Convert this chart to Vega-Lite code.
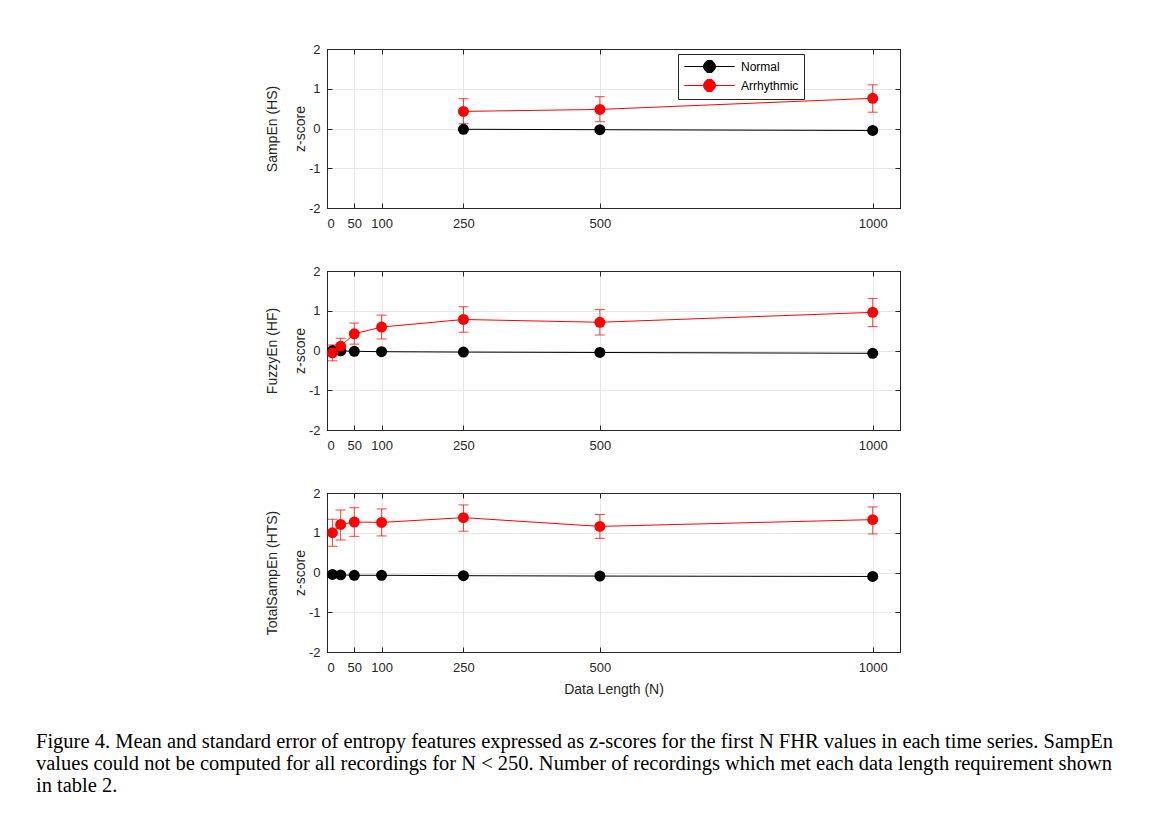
{
  "$schema": "https://vega.github.io/schema/vega-lite/v6.json",
  "padding": {"top": 42, "left": 36, "right": 5, "bottom": 5},
  "background": "white",
  "datasets": {
    "rows": [
      {"feature": "SampEn", "group": "Normal", "N": 250, "mean": -0.02, "lo": -0.05, "hi": 0.01},
      {"feature": "SampEn", "group": "Normal", "N": 500, "mean": -0.03, "lo": -0.06, "hi": 0.0},
      {"feature": "SampEn", "group": "Normal", "N": 1000, "mean": -0.05, "lo": -0.08, "hi": -0.02},
      {"feature": "SampEn", "group": "Arrhythmic", "N": 250, "mean": 0.43, "lo": 0.12, "hi": 0.75},
      {"feature": "SampEn", "group": "Arrhythmic", "N": 500, "mean": 0.48, "lo": 0.17, "hi": 0.8},
      {"feature": "SampEn", "group": "Arrhythmic", "N": 1000, "mean": 0.76, "lo": 0.41, "hi": 1.1},
      {"feature": "FuzzyEn", "group": "Normal", "N": 10, "mean": 0.0, "lo": -0.04, "hi": 0.04},
      {"feature": "FuzzyEn", "group": "Normal", "N": 25, "mean": -0.01, "lo": -0.05, "hi": 0.03},
      {"feature": "FuzzyEn", "group": "Normal", "N": 50, "mean": -0.02, "lo": -0.05, "hi": 0.01},
      {"feature": "FuzzyEn", "group": "Normal", "N": 100, "mean": -0.03, "lo": -0.06, "hi": 0.0},
      {"feature": "FuzzyEn", "group": "Normal", "N": 250, "mean": -0.04, "lo": -0.07, "hi": -0.01},
      {"feature": "FuzzyEn", "group": "Normal", "N": 500, "mean": -0.05, "lo": -0.08, "hi": -0.02},
      {"feature": "FuzzyEn", "group": "Normal", "N": 1000, "mean": -0.07, "lo": -0.1, "hi": -0.04},
      {"feature": "FuzzyEn", "group": "Arrhythmic", "N": 10, "mean": -0.06, "lo": -0.26, "hi": 0.14},
      {"feature": "FuzzyEn", "group": "Arrhythmic", "N": 25, "mean": 0.11, "lo": -0.08, "hi": 0.31},
      {"feature": "FuzzyEn", "group": "Arrhythmic", "N": 50, "mean": 0.42, "lo": 0.16, "hi": 0.69},
      {"feature": "FuzzyEn", "group": "Arrhythmic", "N": 100, "mean": 0.59, "lo": 0.29, "hi": 0.89},
      {"feature": "FuzzyEn", "group": "Arrhythmic", "N": 250, "mean": 0.78, "lo": 0.46, "hi": 1.1},
      {"feature": "FuzzyEn", "group": "Arrhythmic", "N": 500, "mean": 0.71, "lo": 0.39, "hi": 1.03},
      {"feature": "FuzzyEn", "group": "Arrhythmic", "N": 1000, "mean": 0.96, "lo": 0.6, "hi": 1.31},
      {"feature": "TotalSampEn", "group": "Normal", "N": 10, "mean": -0.05, "lo": -0.08, "hi": -0.02},
      {"feature": "TotalSampEn", "group": "Normal", "N": 25, "mean": -0.06, "lo": -0.09, "hi": -0.03},
      {"feature": "TotalSampEn", "group": "Normal", "N": 50, "mean": -0.07, "lo": -0.1, "hi": -0.04},
      {"feature": "TotalSampEn", "group": "Normal", "N": 100, "mean": -0.07, "lo": -0.1, "hi": -0.04},
      {"feature": "TotalSampEn", "group": "Normal", "N": 250, "mean": -0.08, "lo": -0.11, "hi": -0.05},
      {"feature": "TotalSampEn", "group": "Normal", "N": 500, "mean": -0.09, "lo": -0.12, "hi": -0.06},
      {"feature": "TotalSampEn", "group": "Normal", "N": 1000, "mean": -0.1, "lo": -0.13, "hi": -0.07},
      {"feature": "TotalSampEn", "group": "Arrhythmic", "N": 10, "mean": 1.0, "lo": 0.66, "hi": 1.34},
      {"feature": "TotalSampEn", "group": "Arrhythmic", "N": 25, "mean": 1.21, "lo": 0.82, "hi": 1.57},
      {"feature": "TotalSampEn", "group": "Arrhythmic", "N": 50, "mean": 1.27, "lo": 0.91, "hi": 1.63},
      {"feature": "TotalSampEn", "group": "Arrhythmic", "N": 100, "mean": 1.26, "lo": 0.92, "hi": 1.6},
      {"feature": "TotalSampEn", "group": "Arrhythmic", "N": 250, "mean": 1.38, "lo": 1.04, "hi": 1.7},
      {"feature": "TotalSampEn", "group": "Arrhythmic", "N": 500, "mean": 1.16, "lo": 0.86, "hi": 1.46},
      {"feature": "TotalSampEn", "group": "Arrhythmic", "N": 1000, "mean": 1.33, "lo": 0.97, "hi": 1.65}
    ]
  },
  "data": {"name": "rows"},
  "title": {
    "text": [
      "Figure 4. Mean and standard error of entropy features expressed as z-scores for the first N FHR values in each time series. SampEn",
      "values could not be computed for all recordings for N < 250. Number of recordings which met each data length requirement shown",
      "in table 2."
    ],
    "orient": "bottom",
    "anchor": "start",
    "frame": "group",
    "font": "Liberation Serif",
    "fontSize": 20.5,
    "fontWeight": "normal",
    "color": "#000000",
    "lineHeight": 22,
    "dx": -291,
    "offset": 35
  },
  "spacing": 33,
  "resolve": {"legend": {"color": "independent"}},
  "vconcat": [
    {
      "width": 573,
      "height": 159,
      "transform": [{"filter": "datum.feature === 'SampEn'"}],
      "encoding": {
        "color": {
          "field": "group", "type": "nominal",
          "scale": {"domain": ["Normal", "Arrhythmic"], "range": ["#000000", "#ff0000"]},
          "legend": {
            "title": null,
            "orient": "none",
            "legendX": 351,
            "legendY": 5,
            "direction": "vertical",
            "strokeColor": "#262626",
            "fillColor": "#ffffff",
            "padding": 5,
            "rowPadding": 2,
            "labelFont": "Liberation Sans",
            "labelFontSize": 12,
            "labelColor": "#000000",
            "labelOffset": 24,
            "symbolOffset": 19,
            "symbolType": "M -3.6 0 H 3.6 M 0.85 0 A 0.85 0.85 0 1 1 -0.85 0 A 0.85 0.85 0 1 1 0.85 0 Z M 0 -0.85 V 0.85 M -0.4 -0.85 H 0.4 M -0.4 0.85 H 0.4",
            "symbolSize": 196,
            "encode": {
              "symbols": {
                "update": {
                  "fill": {"signal": "datum.value === 'Normal' ? '#000000' : '#ff0000'"},
                  "stroke": {"signal": "datum.value === 'Normal' ? '#000000' : '#ff0000'"},
                  "strokeWidth": {"value": 1},
                  "opacity": {"value": 1},
                  "fillOpacity": {"value": 1}
                }
              }
            }
          }
        }
      },
      "layer": [
        {
          "mark": {"type": "rule", "strokeWidth": 1, "opacity": 0.75},
          "encoding": {
            "x": {"field": "N", "type": "quantitative", "scale": {"domain": [0, 1050], "nice": false},
                  "axis": {"orient": "bottom", "values": [0, 50, 100, 250, 500, 1000], "labelExpr": "'' + datum.value", "title": null, "grid": true}},
            "y": {"field": "lo", "type": "quantitative", "scale": {"domain": [-2, 2], "nice": false},
                  "axis": {"orient": "left", "values": [-2, -1, 0, 1, 2], "labelExpr": "'' + datum.value", "grid": true, "title": ["SampEn (HS)", "z-score"]}},
            "y2": {"field": "hi"}
          }
        },
        {
          "mark": {"type": "tick", "orient": "horizontal", "size": 10, "thickness": 1, "opacity": 0.75},
          "encoding": {
            "x": {"field": "N", "type": "quantitative", "scale": {"domain": [0, 1050], "nice": false}, "axis": null},
            "y": {"field": "lo", "type": "quantitative", "scale": {"domain": [-2, 2], "nice": false}, "axis": null}
          }
        },
        {
          "mark": {"type": "tick", "orient": "horizontal", "size": 10, "thickness": 1, "opacity": 0.75},
          "encoding": {
            "x": {"field": "N", "type": "quantitative", "scale": {"domain": [0, 1050], "nice": false}, "axis": null},
            "y": {"field": "hi", "type": "quantitative", "scale": {"domain": [-2, 2], "nice": false}, "axis": null}
          }
        },
        {
          "mark": {"type": "line", "strokeWidth": 1},
          "encoding": {
            "x": {"field": "N", "type": "quantitative", "scale": {"domain": [0, 1050], "nice": false}, "axis": null},
            "y": {"field": "mean", "type": "quantitative", "scale": {"domain": [-2, 2], "nice": false}, "axis": null}
          }
        },
        {
          "mark": {"type": "point", "filled": true, "size": 120, "opacity": 1, "shape": "circle"},
          "encoding": {
            "x": {"field": "N", "type": "quantitative", "scale": {"domain": [0, 1050], "nice": false},
                  "axis": {"orient": "top", "values": [0, 50, 100, 250, 500, 1000], "labels": false, "title": null, "grid": false}},
            "y": {"field": "mean", "type": "quantitative", "scale": {"domain": [-2, 2], "nice": false},
                  "axis": {"orient": "right", "values": [-2, -1, 0, 1, 2], "labels": false, "title": null, "grid": false}}
          }
        }
      ]
    },
    {
      "width": 573,
      "height": 159,
      "transform": [{"filter": "datum.feature === 'FuzzyEn'"}],
      "encoding": {
        "color": {
          "field": "group", "type": "nominal",
          "scale": {"domain": ["Normal", "Arrhythmic"], "range": ["#000000", "#ff0000"]},
          "legend": null
        }
      },
      "layer": [
        {
          "mark": {"type": "rule", "strokeWidth": 1, "opacity": 0.75},
          "encoding": {
            "x": {"field": "N", "type": "quantitative", "scale": {"domain": [0, 1050], "nice": false},
                  "axis": {"orient": "bottom", "values": [0, 50, 100, 250, 500, 1000], "labelExpr": "'' + datum.value", "title": null, "grid": true}},
            "y": {"field": "lo", "type": "quantitative", "scale": {"domain": [-2, 2], "nice": false},
                  "axis": {"orient": "left", "values": [-2, -1, 0, 1, 2], "labelExpr": "'' + datum.value", "grid": true, "title": ["FuzzyEn (HF)", "z-score"]}},
            "y2": {"field": "hi"}
          }
        },
        {
          "mark": {"type": "tick", "orient": "horizontal", "size": 10, "thickness": 1, "opacity": 0.75},
          "encoding": {
            "x": {"field": "N", "type": "quantitative", "scale": {"domain": [0, 1050], "nice": false}, "axis": null},
            "y": {"field": "lo", "type": "quantitative", "scale": {"domain": [-2, 2], "nice": false}, "axis": null}
          }
        },
        {
          "mark": {"type": "tick", "orient": "horizontal", "size": 10, "thickness": 1, "opacity": 0.75},
          "encoding": {
            "x": {"field": "N", "type": "quantitative", "scale": {"domain": [0, 1050], "nice": false}, "axis": null},
            "y": {"field": "hi", "type": "quantitative", "scale": {"domain": [-2, 2], "nice": false}, "axis": null}
          }
        },
        {
          "mark": {"type": "line", "strokeWidth": 1},
          "encoding": {
            "x": {"field": "N", "type": "quantitative", "scale": {"domain": [0, 1050], "nice": false}, "axis": null},
            "y": {"field": "mean", "type": "quantitative", "scale": {"domain": [-2, 2], "nice": false}, "axis": null}
          }
        },
        {
          "mark": {"type": "point", "filled": true, "size": 120, "opacity": 1, "shape": "circle"},
          "encoding": {
            "x": {"field": "N", "type": "quantitative", "scale": {"domain": [0, 1050], "nice": false},
                  "axis": {"orient": "top", "values": [0, 50, 100, 250, 500, 1000], "labels": false, "title": null, "grid": false}},
            "y": {"field": "mean", "type": "quantitative", "scale": {"domain": [-2, 2], "nice": false},
                  "axis": {"orient": "right", "values": [-2, -1, 0, 1, 2], "labels": false, "title": null, "grid": false}}
          }
        }
      ]
    },
    {
      "width": 573,
      "height": 159,
      "transform": [{"filter": "datum.feature === 'TotalSampEn'"}],
      "encoding": {
        "color": {
          "field": "group", "type": "nominal",
          "scale": {"domain": ["Normal", "Arrhythmic"], "range": ["#000000", "#ff0000"]},
          "legend": null
        }
      },
      "layer": [
        {
          "mark": {"type": "rule", "strokeWidth": 1, "opacity": 0.75},
          "encoding": {
            "x": {"field": "N", "type": "quantitative", "scale": {"domain": [0, 1050], "nice": false},
                  "axis": {"orient": "bottom", "values": [0, 50, 100, 250, 500, 1000], "labelExpr": "'' + datum.value", "title": "Data Length (N)", "grid": true}},
            "y": {"field": "lo", "type": "quantitative", "scale": {"domain": [-2, 2], "nice": false},
                  "axis": {"orient": "left", "values": [-2, -1, 0, 1, 2], "labelExpr": "'' + datum.value", "grid": true, "title": ["TotalSampEn (HTS)", "z-score"]}},
            "y2": {"field": "hi"}
          }
        },
        {
          "mark": {"type": "tick", "orient": "horizontal", "size": 10, "thickness": 1, "opacity": 0.75},
          "encoding": {
            "x": {"field": "N", "type": "quantitative", "scale": {"domain": [0, 1050], "nice": false}, "axis": null},
            "y": {"field": "lo", "type": "quantitative", "scale": {"domain": [-2, 2], "nice": false}, "axis": null}
          }
        },
        {
          "mark": {"type": "tick", "orient": "horizontal", "size": 10, "thickness": 1, "opacity": 0.75},
          "encoding": {
            "x": {"field": "N", "type": "quantitative", "scale": {"domain": [0, 1050], "nice": false}, "axis": null},
            "y": {"field": "hi", "type": "quantitative", "scale": {"domain": [-2, 2], "nice": false}, "axis": null}
          }
        },
        {
          "mark": {"type": "line", "strokeWidth": 1},
          "encoding": {
            "x": {"field": "N", "type": "quantitative", "scale": {"domain": [0, 1050], "nice": false}, "axis": null},
            "y": {"field": "mean", "type": "quantitative", "scale": {"domain": [-2, 2], "nice": false}, "axis": null}
          }
        },
        {
          "mark": {"type": "point", "filled": true, "size": 120, "opacity": 1, "shape": "circle"},
          "encoding": {
            "x": {"field": "N", "type": "quantitative", "scale": {"domain": [0, 1050], "nice": false},
                  "axis": {"orient": "top", "values": [0, 50, 100, 250, 500, 1000], "labels": false, "title": null, "grid": false}},
            "y": {"field": "mean", "type": "quantitative", "scale": {"domain": [-2, 2], "nice": false},
                  "axis": {"orient": "right", "values": [-2, -1, 0, 1, 2], "labels": false, "title": null, "grid": false}}
          }
        }
      ]
    }
  ],
  "config": {
    "font": "Liberation Sans",
    "view": {"stroke": "#262626", "strokeWidth": 1},
    "axis": {
      "labelFont": "Liberation Sans",
      "labelFontSize": 13,
      "labelColor": "#262626",
      "titleFont": "Liberation Sans",
      "titleFontSize": 14,
      "titleFontWeight": "normal",
      "titleColor": "#262626",
      "titleLineHeight": 28,
      "domain": true,
      "domainColor": "#262626",
      "domainWidth": 1,
      "tickColor": "#262626",
      "tickSize": -5,
      "tickWidth": 1,
      "gridColor": "#e6e6e6",
      "gridWidth": 1
    },
    "axisY": {
      "labelPadding": 12,
      "titlePadding": 1,
      "gridOpacity": {"condition": {"test": "datum.value === 2 || datum.value === -2", "value": 0}, "value": 1}
    },
    "axisX": {
      "labelPadding": 14,
      "titlePadding": 8,
      "gridOpacity": {"condition": {"test": "datum.value === 0", "value": 0}, "value": 1}
    }
  }
}
